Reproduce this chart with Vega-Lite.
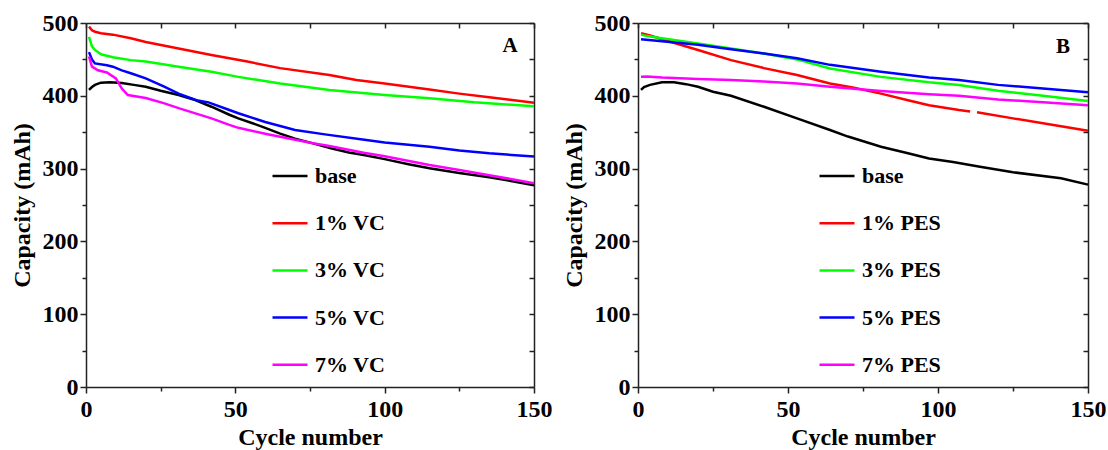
{
"$schema": "https://vega.github.io/schema/vega-lite/v6.json",
"padding": {"left": 10, "top": 11, "right": 5, "bottom": 5},
"background": "white",
"config": {
  "font": "'Liberation Serif', 'Times New Roman', Times, serif",
  "view": {"stroke": null},
  "axis": {"grid": false, "domainColor": "#222", "domainWidth": 1.5, "tickColor": "#222", "tickWidth": 1.5,
    "labelFont": "'Liberation Serif', 'Times New Roman', Times, serif", "labelFontWeight": "bold", "labelFontSize": 24, "labelColor": "black",
    "titleFont": "'Liberation Serif', 'Times New Roman', Times, serif", "titleFontWeight": "bold", "titleFontSize": 24, "titleColor": "black"},
  "legend": {"labelFont": "'Liberation Serif', 'Times New Roman', Times, serif", "labelFontWeight": "bold", "labelFontSize": 22, "labelColor": "black"},
  "text": {"font": "'Liberation Serif', 'Times New Roman', Times, serif"},
  "concat": {"spacing": 10}
},
"datasets": {
  "vc": [
    {"series":"base","cycle":1,"capacity":408},{"series":"base","cycle":2,"capacity":412},{"series":"base","cycle":3,"capacity":415},{"series":"base","cycle":5,"capacity":418},{"series":"base","cycle":8,"capacity":418.5},{"series":"base","cycle":12,"capacity":417.5},{"series":"base","cycle":16,"capacity":415},{"series":"base","cycle":20,"capacity":412.5},{"series":"base","cycle":25,"capacity":407},{"series":"base","cycle":31,"capacity":401},{"series":"base","cycle":36,"capacity":395},{"series":"base","cycle":42,"capacity":385},{"series":"base","cycle":48,"capacity":374},{"series":"base","cycle":51,"capacity":369},{"series":"base","cycle":56,"capacity":362},{"series":"base","cycle":60,"capacity":356},{"series":"base","cycle":65,"capacity":348},{"series":"base","cycle":70,"capacity":341},{"series":"base","cycle":76,"capacity":334.7},{"series":"base","cycle":82,"capacity":328},{"series":"base","cycle":88,"capacity":322},{"series":"base","cycle":93,"capacity":318.7},{"series":"base","cycle":100,"capacity":313},{"series":"base","cycle":108,"capacity":306},{"series":"base","cycle":115,"capacity":300.4},{"series":"base","cycle":125,"capacity":294},{"series":"base","cycle":135,"capacity":288},{"series":"base","cycle":141,"capacity":284},{"series":"base","cycle":150,"capacity":277},
    {"series":"1% VC","cycle":1,"capacity":495},{"series":"1% VC","cycle":2,"capacity":490},{"series":"1% VC","cycle":3,"capacity":488},{"series":"1% VC","cycle":5,"capacity":486},{"series":"1% VC","cycle":9,"capacity":484},{"series":"1% VC","cycle":15,"capacity":479},{"series":"1% VC","cycle":20,"capacity":474},{"series":"1% VC","cycle":31,"capacity":465},{"series":"1% VC","cycle":42,"capacity":456},{"series":"1% VC","cycle":54,"capacity":447},{"series":"1% VC","cycle":65,"capacity":438},{"series":"1% VC","cycle":81.5,"capacity":428.6},{"series":"1% VC","cycle":90.5,"capacity":421.7},{"series":"1% VC","cycle":100,"capacity":417},{"series":"1% VC","cycle":115,"capacity":408.5},{"series":"1% VC","cycle":125,"capacity":403},{"series":"1% VC","cycle":135,"capacity":398},{"series":"1% VC","cycle":150,"capacity":390.5},
    {"series":"3% VC","cycle":1,"capacity":481},{"series":"3% VC","cycle":2,"capacity":468},{"series":"3% VC","cycle":3,"capacity":463},{"series":"3% VC","cycle":5,"capacity":457},{"series":"3% VC","cycle":9,"capacity":453},{"series":"3% VC","cycle":15,"capacity":449},{"series":"3% VC","cycle":20,"capacity":447},{"series":"3% VC","cycle":31,"capacity":440},{"series":"3% VC","cycle":42,"capacity":433},{"series":"3% VC","cycle":51,"capacity":426},{"series":"3% VC","cycle":65,"capacity":417},{"series":"3% VC","cycle":81.5,"capacity":408},{"series":"3% VC","cycle":100,"capacity":401},{"series":"3% VC","cycle":115,"capacity":396.6},{"series":"3% VC","cycle":130,"capacity":391},{"series":"3% VC","cycle":150,"capacity":385.5},
    {"series":"5% VC","cycle":1,"capacity":460},{"series":"5% VC","cycle":2,"capacity":450},{"series":"5% VC","cycle":3,"capacity":444.5},{"series":"5% VC","cycle":7,"capacity":442},{"series":"5% VC","cycle":9,"capacity":440},{"series":"5% VC","cycle":12,"capacity":435},{"series":"5% VC","cycle":15,"capacity":431},{"series":"5% VC","cycle":20,"capacity":424},{"series":"5% VC","cycle":26,"capacity":413},{"series":"5% VC","cycle":31,"capacity":403},{"series":"5% VC","cycle":37,"capacity":394},{"series":"5% VC","cycle":41,"capacity":391},{"series":"5% VC","cycle":48,"capacity":380.5},{"series":"5% VC","cycle":51,"capacity":376},{"series":"5% VC","cycle":60,"capacity":364},{"series":"5% VC","cycle":70,"capacity":353},{"series":"5% VC","cycle":80,"capacity":347},{"series":"5% VC","cycle":92.6,"capacity":340},{"series":"5% VC","cycle":100,"capacity":336},{"series":"5% VC","cycle":115,"capacity":330},{"series":"5% VC","cycle":125,"capacity":325},{"series":"5% VC","cycle":135,"capacity":321},{"series":"5% VC","cycle":150,"capacity":316.5},
    {"series":"7% VC","cycle":1,"capacity":454},{"series":"7% VC","cycle":2,"capacity":440},{"series":"7% VC","cycle":4,"capacity":435},{"series":"7% VC","cycle":7,"capacity":432},{"series":"7% VC","cycle":10,"capacity":424},{"series":"7% VC","cycle":12,"capacity":410},{"series":"7% VC","cycle":14,"capacity":401},{"series":"7% VC","cycle":20,"capacity":397},{"series":"7% VC","cycle":26,"capacity":390},{"series":"7% VC","cycle":31,"capacity":383},{"series":"7% VC","cycle":42,"capacity":369},{"series":"7% VC","cycle":48,"capacity":360},{"series":"7% VC","cycle":51,"capacity":356},{"series":"7% VC","cycle":60,"capacity":348},{"series":"7% VC","cycle":65,"capacity":343.8},{"series":"7% VC","cycle":76,"capacity":334.7},{"series":"7% VC","cycle":81.5,"capacity":331},{"series":"7% VC","cycle":93,"capacity":321.8},{"series":"7% VC","cycle":100,"capacity":317},{"series":"7% VC","cycle":115,"capacity":305},{"series":"7% VC","cycle":125,"capacity":298},{"series":"7% VC","cycle":135,"capacity":291},{"series":"7% VC","cycle":150,"capacity":280}
  ],
  "pes": [
    {"series":"base","cycle":1,"capacity":408},{"series":"base","cycle":2,"capacity":412},{"series":"base","cycle":4,"capacity":415},{"series":"base","cycle":8,"capacity":418.5},{"series":"base","cycle":12,"capacity":418.5},{"series":"base","cycle":16,"capacity":416},{"series":"base","cycle":20,"capacity":412.5},{"series":"base","cycle":25,"capacity":405.6},{"series":"base","cycle":31,"capacity":400},{"series":"base","cycle":42,"capacity":385},{"series":"base","cycle":53,"capacity":369},{"series":"base","cycle":64,"capacity":353},{"series":"base","cycle":70,"capacity":344},{"series":"base","cycle":81,"capacity":330},{"series":"base","cycle":90,"capacity":321},{"series":"base","cycle":97,"capacity":314},{"series":"base","cycle":105,"capacity":309},{"series":"base","cycle":114,"capacity":302.6},{"series":"base","cycle":125,"capacity":295},{"series":"base","cycle":141,"capacity":286.7},{"series":"base","cycle":150,"capacity":278},
    {"series":"1% PES","cycle":1,"capacity":486},{"series":"1% PES","cycle":4,"capacity":483},{"series":"1% PES","cycle":8,"capacity":477.6},{"series":"1% PES","cycle":20,"capacity":463},{"series":"1% PES","cycle":31,"capacity":449},{"series":"1% PES","cycle":42,"capacity":438},{"series":"1% PES","cycle":53,"capacity":428.6},{"series":"1% PES","cycle":64,"capacity":417},{"series":"1% PES","cycle":72,"capacity":411},{"series":"1% PES","cycle":81,"capacity":403},{"series":"1% PES","cycle":90,"capacity":394},{"series":"1% PES","cycle":97,"capacity":387},{"series":"1% PES","cycle":107,"capacity":380.5},{"series":"1% PES","cycle":110.7,"capacity":378.5},{"series":"1% PES","cycle":112,"capacity":null},{"series":"1% PES","cycle":113,"capacity":377.5},{"series":"1% PES","cycle":125,"capacity":369},{"series":"1% PES","cycle":137,"capacity":361},{"series":"1% PES","cycle":150,"capacity":352},
    {"series":"3% PES","cycle":1,"capacity":484},{"series":"3% PES","cycle":3,"capacity":482},{"series":"3% PES","cycle":8,"capacity":479},{"series":"3% PES","cycle":20,"capacity":472},{"series":"3% PES","cycle":31,"capacity":465},{"series":"3% PES","cycle":42,"capacity":458},{"series":"3% PES","cycle":53,"capacity":450},{"series":"3% PES","cycle":64,"capacity":437.5},{"series":"3% PES","cycle":81,"capacity":426},{"series":"3% PES","cycle":97,"capacity":418.5},{"series":"3% PES","cycle":107,"capacity":414.8},{"series":"3% PES","cycle":120,"capacity":407},{"series":"3% PES","cycle":135,"capacity":400},{"series":"3% PES","cycle":150,"capacity":393},
    {"series":"5% PES","cycle":1,"capacity":477.6},{"series":"5% PES","cycle":8,"capacity":475},{"series":"5% PES","cycle":20,"capacity":470},{"series":"5% PES","cycle":31,"capacity":464},{"series":"5% PES","cycle":42,"capacity":458},{"series":"5% PES","cycle":53,"capacity":451.5},{"series":"5% PES","cycle":64,"capacity":442.5},{"series":"5% PES","cycle":81,"capacity":433},{"series":"5% PES","cycle":97,"capacity":425},{"series":"5% PES","cycle":107,"capacity":421.7},{"series":"5% PES","cycle":120,"capacity":415},{"series":"5% PES","cycle":135,"capacity":410},{"series":"5% PES","cycle":150,"capacity":404.8},
    {"series":"7% PES","cycle":1,"capacity":426},{"series":"7% PES","cycle":3,"capacity":426.5},{"series":"7% PES","cycle":8,"capacity":425},{"series":"7% PES","cycle":20,"capacity":423},{"series":"7% PES","cycle":31,"capacity":421.7},{"series":"7% PES","cycle":42,"capacity":419.5},{"series":"7% PES","cycle":53,"capacity":417},{"series":"7% PES","cycle":64,"capacity":412.5},{"series":"7% PES","cycle":81,"capacity":406.6},{"series":"7% PES","cycle":97,"capacity":402},{"series":"7% PES","cycle":107,"capacity":400},{"series":"7% PES","cycle":120,"capacity":395},{"series":"7% PES","cycle":135,"capacity":391},{"series":"7% PES","cycle":150,"capacity":387}
  ]
},
"resolve": {"scale": {"color": "independent"}, "legend": {"color": "independent"}},
"hconcat": [
  {
    "width": 448, "height": 364,
    "resolve": {"axis": {"x": "independent", "y": "independent"}},
    "layer": [
      {
        "data": {"name": "vc"},
        "mark": {"type": "line", "strokeWidth": 2.5, "invalid": "break-paths-show-domains"},
        "encoding": {
          "x": {"field": "cycle", "type": "quantitative", "scale": {"domain": [0, 150], "nice": false},
                "axis": {"orient": "bottom", "title": "Cycle number", "values": [0,25,50,75,100,125,150],
                         "labelExpr": "datum.value % 50 === 0 ? datum.label : ''",
                         "tickSize": {"condition": {"test": "datum.value % 50 === 0", "value": 6}, "value": 4},
                         "labelPadding": 4, "titlePadding": 4, "labelFlush": false}},
          "y": {"field": "capacity", "type": "quantitative", "scale": {"domain": [0, 500], "nice": false},
                "axis": {"orient": "left", "title": "Capacity (mAh)", "values": [0,50,100,150,200,250,300,350,400,450,500],
                         "labelExpr": "datum.value % 100 === 0 ? datum.label : ''",
                         "tickSize": {"condition": {"test": "datum.value % 100 === 0", "value": 6}, "value": 4},
                         "labelPadding": 2, "titlePadding": 8, "labelFlush": false}},
          "color": {"field": "series", "type": "nominal",
                    "scale": {"domain": ["base","1% VC","3% VC","5% VC","7% VC"], "range": ["#000000","#FF0000","#00FF00","#0000FF","#FF00FF"]},
                    "legend": {"title": null, "orient": "none", "legendX": 185, "legendY": 134, "symbolType": "stroke", "symbolSize": 1225, "symbolStrokeWidth": 2.5, "rowPadding": 17.2, "labelOffset": 6, "padding": 0}}
        }
      },
      {
        "data": {"values": [{"cycle": 142, "capacity": 468, "label": "A"}]},
        "mark": {"type": "text", "fontSize": 21, "fontWeight": "bold", "color": "black"},
        "encoding": {
          "x": {"field": "cycle", "type": "quantitative", "scale": {"domain": [0, 150], "nice": false},
                "axis": {"orient": "top", "title": null, "labels": false, "values": [0,25,50,75,100,125,150], "tickSize": -5}},
          "y": {"field": "capacity", "type": "quantitative", "scale": {"domain": [0, 500], "nice": false},
                "axis": {"orient": "right", "title": null, "labels": false, "values": [0,50,100,150,200,250,300,350,400,450,500], "tickSize": -5}},
          "text": {"field": "label"}
        }
      }
    ]
  },
  {
    "width": 450, "height": 364,
    "resolve": {"axis": {"x": "independent", "y": "independent"}},
    "layer": [
      {
        "data": {"name": "pes"},
        "mark": {"type": "line", "strokeWidth": 2.5, "invalid": "break-paths-show-domains"},
        "encoding": {
          "x": {"field": "cycle", "type": "quantitative", "scale": {"domain": [0, 150], "nice": false},
                "axis": {"orient": "bottom", "title": "Cycle number", "values": [0,25,50,75,100,125,150],
                         "labelExpr": "datum.value % 50 === 0 ? datum.label : ''",
                         "tickSize": {"condition": {"test": "datum.value % 50 === 0", "value": 6}, "value": 4},
                         "labelPadding": 4, "titlePadding": 4, "labelFlush": false}},
          "y": {"field": "capacity", "type": "quantitative", "scale": {"domain": [0, 500], "nice": false},
                "axis": {"orient": "left", "title": "Capacity (mAh)", "values": [0,50,100,150,200,250,300,350,400,450,500],
                         "labelExpr": "datum.value % 100 === 0 ? datum.label : ''",
                         "tickSize": {"condition": {"test": "datum.value % 100 === 0", "value": 6}, "value": 4},
                         "labelPadding": 2, "titlePadding": 8, "labelFlush": false}},
          "color": {"field": "series", "type": "nominal",
                    "scale": {"domain": ["base","1% PES","3% PES","5% PES","7% PES"], "range": ["#000000","#FF0000","#00FF00","#0000FF","#FF00FF"]},
                    "legend": {"title": null, "orient": "none", "legendX": 180, "legendY": 134, "symbolType": "stroke", "symbolSize": 1225, "symbolStrokeWidth": 2.5, "rowPadding": 17.2, "labelOffset": 6, "padding": 0}}
        }
      },
      {
        "data": {"values": [{"cycle": 141.7, "capacity": 467, "label": "B"}]},
        "mark": {"type": "text", "fontSize": 21, "fontWeight": "bold", "color": "black"},
        "encoding": {
          "x": {"field": "cycle", "type": "quantitative", "scale": {"domain": [0, 150], "nice": false},
                "axis": {"orient": "top", "title": null, "labels": false, "values": [0,25,50,75,100,125,150], "tickSize": -5}},
          "y": {"field": "capacity", "type": "quantitative", "scale": {"domain": [0, 500], "nice": false},
                "axis": {"orient": "right", "title": null, "labels": false, "values": [0,50,100,150,200,250,300,350,400,450,500], "tickSize": -5}},
          "text": {"field": "label"}
        }
      }
    ]
  }
]
}
